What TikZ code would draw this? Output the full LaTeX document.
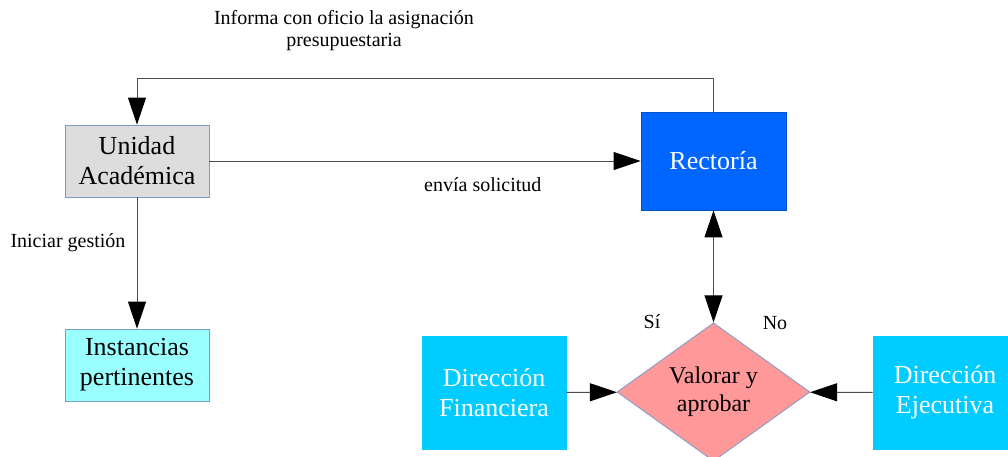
\documentclass[tikz,border=0pt]{standalone}
\usepackage{fontspec}
\setmainfont{Liberation Serif}
\usetikzlibrary{arrows.meta,shapes.geometric}
\definecolor{gris}{HTML}{DDDDDD}
\definecolor{celeste}{HTML}{99FFFF}
\definecolor{azul}{HTML}{0066FF}
\definecolor{cian}{HTML}{00CCFF}
\definecolor{rosa}{HTML}{FF9999}
\definecolor{borde}{HTML}{7B9BCB}
\tikzset{
  caja/.style={draw=borde,line width=0.8pt,minimum width=144pt,minimum height=72pt,
    inner sep=0pt,align=center,font=\fontsize{26}{30}\selectfont},
  direccion/.style={caja,fill=cian,draw=cian,text=white,minimum height=113pt},
  etiq/.style={align=center,font=\fontsize{20}{22}\selectfont},
  linea/.style={draw=black!70,line width=1pt},
  flecha/.style={linea,-{Triangle[length=27pt,width=18pt,color=black]}},
  doble/.style={linea,{Triangle[length=27pt,width=18pt,color=black]}-{Triangle[length=27pt,width=18pt,color=black]}}
}
\begin{document}
\begin{tikzpicture}[x=1pt,y=-1pt]
  \useasboundingbox (0,0) rectangle (1008,456);
  \clip (0,0) rectangle (1008,456);
  % cajas
  \node[caja,fill=gris] (unidad) at (137,161) {Unidad\\Académica};
  \node[caja,fill=celeste] (instancias) at (137,365) {Instancias\\pertinentes};
  \node[caja,fill=azul,draw=azul!80!black,text=white,minimum width=145pt,minimum height=98pt]
    (rectoria) at (713.5,161) {Rectoría};
  \node[direccion] (financiera) at (494,392.5) {Dirección\\Financiera};
  \node[direccion] (ejecutiva) at (945,392.5) {Dirección\\Ejecutiva};
  \node[diamond,draw=borde,line width=0.8pt,fill=rosa,minimum width=193pt,minimum height=138pt,
    inner sep=0pt,align=center,font=\fontsize{24}{28}\selectfont] (valorar) at (713.5,392) {Valorar y\\aprobar};
  % conectores
  \draw[flecha] (unidad) -- node[etiq,pos=0.634,yshift=-24pt] (envia) {envía solicitud} (rectoria);
  \draw[flecha] (rectoria.north) -- ++(0,-33) -| (unidad.north);
  \draw[flecha] (unidad) -- (instancias);
  \draw[doble] (rectoria) -- (valorar);
  \draw[flecha] (financiera) -- (valorar);
  \draw[flecha] (ejecutiva) -- (valorar);
  % etiquetas
  \node[etiq] (informa) at (344,31) {Informa con oficio la asignación\\presupuestaria};
  \node[etiq] (iniciar) at (68,243) {Iniciar gestión};
  \node[etiq] (si) at (652,322) {Sí};
  \node[etiq] (no) at (775,323) {No};
\end{tikzpicture}
\end{document}
